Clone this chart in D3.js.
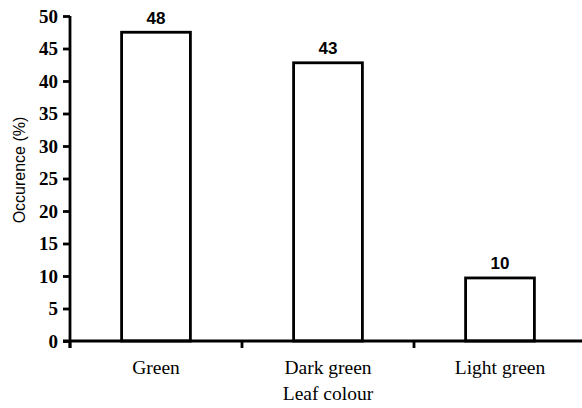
<!DOCTYPE html>
<html><head><meta charset="utf-8">
<script src="https://cdn.jsdelivr.net/npm/d3@7"></script>
<style>body{margin:0;background:#fff}svg{display:block}</style>
</head><body>
<svg id="c" width="582" height="408"></svg>
<script>
const categories = ["Green", "Dark green", "Light green"];
const values = [47.5, 42.8, 9.7];
const valueLabels = ["48", "43", "10"];
const yTicks = [0, 5, 10, 15, 20, 25, 30, 35, 40, 45, 50];

const svg = d3.select("#c");
const x0 = 70, x1 = 586, yTop = 16, yBot = 341;
const x = d3.scaleBand().domain(categories).range([x0, x1]).paddingInner(0.6).paddingOuter(0.3);
const y = d3.scaleLinear().domain([0, 50]).range([yBot, yTop]);

const serif = "'Liberation Serif', 'Times New Roman', serif";
const sans = "'Liberation Sans', Arial, sans-serif";
const sw = 2.8;

// bars
svg.selectAll("rect.bar").data(categories).enter().append("rect")
  .attr("x", d => x(d)).attr("width", x.bandwidth())
  .attr("y", (d, i) => y(values[i])).attr("height", (d, i) => yBot - y(values[i]))
  .attr("fill", "#fff").attr("stroke", "#000").attr("stroke-width", sw);

// value labels
svg.selectAll("text.val").data(categories).enter().append("text")
  .attr("x", d => x(d) + x.bandwidth() / 2).attr("y", (d, i) => y(values[i]) - 8.5)
  .attr("text-anchor", "middle").attr("font-family", sans).attr("font-weight", "bold")
  .attr("font-size", 17).text((d, i) => valueLabels[i]);

// y axis
const yAxis = svg.append("g").attr("transform", `translate(${x0},0)`)
  .call(d3.axisLeft(y).tickValues(yTicks).tickSize(7).tickPadding(5).tickFormat(d3.format("d")));
yAxis.select(".domain").attr("stroke-width", sw).attr("d", `M0,${yTop}V${yBot + 7}`);
yAxis.selectAll(".tick line").attr("stroke-width", sw);
yAxis.selectAll("text").attr("font-family", serif).attr("font-weight", "bold").attr("font-size", 19).attr("fill", "#000");

// x axis
const bounds = [x0, (x(categories[0]) + x.bandwidth() + x(categories[1])) / 2, (x(categories[1]) + x.bandwidth() + x(categories[2])) / 2];
const xAxis = svg.append("g");
xAxis.append("line").attr("x1", x0 - 7).attr("x2", 582).attr("y1", yBot).attr("y2", yBot)
  .attr("stroke", "#000").attr("stroke-width", sw);
xAxis.selectAll("line.t").data(bounds).enter().append("line")
  .attr("x1", d => d).attr("x2", d => d).attr("y1", yBot).attr("y2", yBot + 7)
  .attr("stroke", "#000").attr("stroke-width", sw);
xAxis.selectAll("text").data(categories).enter().append("text")
  .attr("x", d => x(d) + x.bandwidth() / 2).attr("y", 374)
  .attr("text-anchor", "middle").attr("font-family", serif).attr("font-size", 19.5).text(d => d);

// titles
svg.append("text").attr("x", x(categories[1]) + x.bandwidth() / 2).attr("y", 400)
  .attr("text-anchor", "middle").attr("font-family", serif).attr("font-size", 19.5).text("Leaf colour");
svg.append("text").attr("transform", "translate(25,170) rotate(-90)")
  .attr("text-anchor", "middle").attr("font-family", sans).attr("font-size", 16).text("Occurence (%)");
</script>
</body></html>
